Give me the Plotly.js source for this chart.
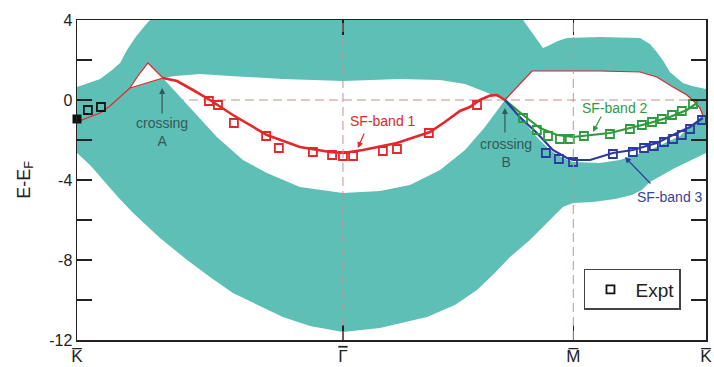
<!DOCTYPE html>
<html><head><meta charset="utf-8">
<script src="https://cdn.plot.ly/plotly-3.0.1.min.js"></script>
<style>html,body{margin:0;padding:0;background:#fff;} #chart{width:714px;height:367px;}</style>
</head><body><div id="chart"></div>
<script>
// ---- axes ----
const tickK = [0, 1.0, 1.866, 2.365];
const tickLabels = ['K\u0305', '<span style="text-decoration:overline">\u0393</span>', 'M\u0305', 'K\u0305'];
const eTicks = [-12, -8, -4, 0, 4];
const eTickText = ['-12', '-8', '-4', '0', '4'];
const eMinorTicks = [-10, -6, -2, 2];

// ---- projected bulk bands (teal) ----
const bulkTopK = [0, 0.041, 0.087, 0.132, 0.162, 0.188, 0.218, 0.248, 0.274, 1.677, 1.703, 1.729, 1.752, 1.778, 1.808, 1.842, 1.966, 2.117, 2.154, 2.180, 2.207, 2.229, 2.256, 2.278, 2.312, 2.342, 2.365];
const bulkTopE = [0.65, 0.85, 1.05, 1.5, 1.85, 2.5, 3.1, 3.6, 4, 4, 3.5, 3.0, 2.6, 2.75, 2.95, 3.1, 3.15, 3.1, 2.8, 2.4, 1.9, 1.4, 1.1, 0.85, 0.7, 0.6, 0.55];
const bulkBotK = [0, 0.049, 0.098, 0.154, 0.211, 0.312, 0.414, 0.5, 0.586, 0.688, 0.774, 0.876, 1.0, 1.139, 1.316, 1.421, 1.504, 1.571, 1.628, 1.703, 1.767, 1.827, 1.865, 1.940, 2.023, 2.086, 2.124, 2.154, 2.248, 2.365];
const bulkBotE = [-2.65, -3.25, -4.0, -4.85, -5.65, -6.9, -8.0, -8.85, -9.65, -10.3, -10.85, -11.3, -11.6, -11.4, -10.85, -10.25, -9.5, -8.65, -7.85, -7.0, -6.15, -5.35, -5.15, -5.1, -4.95, -4.75, -4.5, -4.1, -3.4, -2.65];
const edgeCut = [2.365, -0.85];
// gap around Gamma (between crossings A and B)
const lensTopK = [0.323, 0.368, 0.462, 0.575, 0.774, 1.0, 1.214, 1.365, 1.459, 1.515, 1.564, 1.609];
const lensTopE = [1.1, 1.2, 1.3, 1.2, 1.05, 0.95, 1.05, 1.0, 0.8, 0.5, 0.25, 0.0];
const lensBotK = [0.323, 0.357, 0.398, 0.462, 0.526, 0.624, 0.714, 0.838, 1.0, 1.139, 1.252, 1.365, 1.459, 1.534, 1.609];
const lensBotE = [1.1, 0.6, 0.0, -0.9, -1.85, -3.0, -3.65, -4.35, -4.65, -4.55, -4.25, -3.5, -2.5, -1.35, 0.0];
// gap around M
const pocketTopK = [1.609, 1.658, 1.711, 1.816, 1.966, 2.117, 2.180, 2.241, 2.293, 2.323, 2.342, 2.353];
const pocketTopE = [0.0, 0.7, 1.45, 1.45, 1.45, 1.4, 1.15, 0.65, 0.25, -0.1, -0.4, -0.75];
const pocketBotK = [1.609, 1.665, 1.729, 1.778, 1.827, 1.865, 1.966, 2.041, 2.154, 2.267, 2.353];
const pocketBotE = [0.0, -0.85, -1.85, -2.5, -2.9, -3.1, -3.15, -3.0, -2.5, -1.8, -0.75];
// thin surface-state lines near K and crossing A
const kaLegK = [0, 0.049, 0.087, 0.124, 0.162, 0.199];
const kaLegE = [-1.1, -0.85, -0.65, -0.3, 0.15, 0.6];
const kaPeakK = [0.199, 0.229, 0.267, 0.293, 0.323];
const kaPeakE = [0.6, 1.2, 1.85, 1.5, 1.1];
const kaLowK = [0.199, 0.237, 0.274, 0.323];
const kaLowE = [0.6, 0.75, 0.9, 1.1];

// ---- SF bands (theory) ----
const sf1K = [0.323, 0.376, 0.436, 0.5, 0.586, 0.714, 0.838, 0.951, 1.0, 1.075, 1.203, 1.327, 1.383, 1.44, 1.477, 1.515, 1.553, 1.579, 1.609];
const sf1E = [1.1, 0.95, 0.5, 0.0, -0.75, -1.75, -2.35, -2.6, -2.65, -2.5, -2.15, -1.6, -1.1, -0.55, -0.35, 0.0, 0.22, 0.25, 0.0];
const sf2K = [1.609, 1.677, 1.741, 1.805, 1.865, 1.929, 2.004, 2.079, 2.154, 2.229, 2.293, 2.331];
const sf2E = [0.0, -0.75, -1.4, -1.75, -1.85, -1.75, -1.65, -1.4, -1.15, -0.85, -0.5, -0.15];
const sf3K = [1.609, 1.665, 1.729, 1.789, 1.842, 1.865, 1.929, 2.015, 2.090, 2.180, 2.256, 2.305, 2.353];
const sf3E = [0.0, -0.85, -1.65, -2.5, -2.9, -3.0, -3.0, -2.65, -2.5, -2.15, -1.65, -1.35, -0.9];

// ---- experiment ----
const exKfilledK = [0], exKfilledE = [-0.95];
const exKK = [0.041, 0.090], exKE = [-0.5, -0.35];
const exRedK = [0.496, 0.530, 0.590, 0.711, 0.759, 0.887, 0.959, 1.0, 1.038, 1.150, 1.203, 1.323, 1.504];
const exRedE = [-0.05, -0.25, -1.15, -1.8, -2.4, -2.6, -2.75, -2.8, -2.8, -2.55, -2.45, -1.65, -0.25];
const exGreenK = [1.677, 1.729, 1.771, 1.816, 1.853, 1.906, 2.004, 2.079, 2.124, 2.162, 2.199, 2.237, 2.274, 2.316];
const exGreenE = [-0.9, -1.5, -1.8, -1.95, -1.95, -1.8, -1.7, -1.45, -1.25, -1.1, -0.95, -0.75, -0.55, -0.2];
const exBlueK = [1.763, 1.812, 1.865, 2.015, 2.090, 2.132, 2.169, 2.207, 2.241, 2.274, 2.305, 2.350];
const exBlueE = [-2.65, -2.95, -3.1, -2.7, -2.6, -2.4, -2.3, -2.1, -1.95, -1.75, -1.45, -1.0];

// ---- colours ----
const TEAL = '#5dbfb6', RED = '#e5262a', GREEN = '#2e9a3e', BLUE = '#2c3a9e', DASH = '#c4928e';
const FONT = 'Liberation Sans, Arial, sans-serif';

const rev = a => a.slice().reverse();
// upper teal region
const t1K = [].concat(bulkTopK, [edgeCut[0]], rev(pocketTopK), rev(lensTopK).slice(1), rev(kaPeakK).slice(1), rev(kaLegK).slice(1));
const t1E = [].concat(bulkTopE, [edgeCut[1]], rev(pocketTopE), rev(lensTopE).slice(1), rev(kaPeakE).slice(1), rev(kaLegE).slice(1));
// lower teal region
const t2K = [].concat(kaLegK, kaLowK.slice(1), lensBotK.slice(1), pocketBotK.slice(1), [edgeCut[0]], rev(bulkBotK));
const t2E = [].concat(kaLegE, kaLowE.slice(1), lensBotE.slice(1), pocketBotE.slice(1), [edgeCut[1]], rev(bulkBotE));

const fillTrace = (x, y) => ({x, y, type: 'scatter', mode: 'lines', fill: 'toself', fillcolor: TEAL,
  line: {width: 0, color: TEAL}, showlegend: false, hoverinfo: 'skip'});
const lineTrace = (x, y, color, w) => ({x, y, type: 'scatter', mode: 'lines', line: {color, width: w},
  showlegend: false, hoverinfo: 'skip'});
const ptsTrace = (x, y, color, extra) => Object.assign({x, y, type: 'scatter', mode: 'markers',
  marker: {symbol: 'square-open', size: 8, color, line: {width: 1.8, color}}, showlegend: false,
  cliponaxis: false, hoverinfo: 'skip'}, extra || {});

const data = [
  fillTrace(t1K, t1E),
  fillTrace(t2K, t2E),
  lineTrace(kaLegK, kaLegE, RED, 1.2),
  lineTrace(kaPeakK, kaPeakE, RED, 1.2),
  lineTrace(kaLowK, kaLowE, RED, 1.2),
  lineTrace(pocketTopK, pocketTopE, '#d8262a', 1.2),
  lineTrace(sf1K, sf1E, RED, 2.6),
  lineTrace(sf2K, sf2E, GREEN, 2.2),
  lineTrace(sf3K, sf3E, BLUE, 2.2),
  ptsTrace(exKK, exKE, '#111', {name: 'Expt', showlegend: true}),
  ptsTrace(exKfilledK, exKfilledE, '#111', {marker: {symbol: 'square', size: 9, color: '#111'}}),
  ptsTrace(exRedK, exRedE, RED),
  ptsTrace(exGreenK, exGreenE, GREEN),
  ptsTrace(exBlueK, exBlueE, BLUE)
];

const arrow = (x, y, ax, ay, color) => ({x, y, ax, ay, text: '', showarrow: true, arrowhead: 2,
  arrowsize: 1, arrowwidth: 1.2, arrowcolor: color, xref: 'x', yref: 'y'});
const label = (x, y, text, color) => ({x, y, text, showarrow: false, xref: 'x', yref: 'y',
  font: {family: FONT, size: 14, color}});

const annotations = [
  label(0.320, -1.6, 'crossing<br>A', '#345a57'),
  arrow(0.320, 0.6, 0, 27, '#345a57'),
  label(1.613, -2.65, 'crossing<br>B', '#345a57'),
  arrow(1.609, -0.4, 0, 26, '#345a57'),
  label(1.150, -1.05, 'SF-band 1', RED),
  arrow(1.056, -2.4, 7, -16, RED),
  label(2.023, -0.4, 'SF-band 2', GREEN),
  arrow(1.940, -1.6, 9, -17, GREEN),
  label(2.229, -4.85, 'SF-band 3', '#3a3f9a'),
  arrow(2.060, -2.85, 27, 28, BLUE)
];

const tickStyle = {ticks: 'inside', ticklen: 15, tickwidth: 1.3, tickcolor: '#222'};
const layout = {
  width: 714, height: 367,
  margin: {l: 77, r: 8, t: 20, b: 27},
  paper_bgcolor: '#fff', plot_bgcolor: '#fff',
  showlegend: true,
  legend: {x: 0.806, y: 0.222, xanchor: 'left', yanchor: 'top', bgcolor: '#fff', itemwidth: 40,
    bordercolor: '#444', borderwidth: 1.5, font: {family: FONT, size: 19, color: '#222'}},
  xaxis: Object.assign({range: [0, 2.365], tickmode: 'array', tickvals: tickK, ticktext: tickLabels,
    showline: true, linecolor: '#222', linewidth: 1.5, mirror: 'ticks',
    showgrid: false, zeroline: false, tickfont: {family: FONT, size: 17, color: '#222'}}, tickStyle),
  yaxis: Object.assign({range: [-12, 4], tickmode: 'array', tickvals: eTicks, ticktext: eTickText,
    minor: Object.assign({tickmode: 'array', tickvals: eMinorTicks, showgrid: false}, tickStyle),
    showline: true, linecolor: '#222', linewidth: 1.5, mirror: 'ticks',
    showgrid: false, zeroline: false, tickfont: {family: FONT, size: 16, color: '#222'},
    title: {text: 'E-E<sub>F</sub>', font: {family: FONT, size: 18, color: '#222'}, standoff: 14}}, tickStyle),
  shapes: [
    {type: 'line', xref: 'x', yref: 'y', x0: 0, x1: 2.365, y0: 0, y1: 0, layer: 'below',
      line: {color: DASH, width: 1, dash: '9px,5px'}},
    {type: 'line', xref: 'x', yref: 'y', x0: 1.0, x1: 1.0, y0: -12, y1: 4, layer: 'above',
      line: {color: DASH, width: 1, dash: '9px,5px'}},
    {type: 'line', xref: 'x', yref: 'y', x0: 1.866, x1: 1.866, y0: -12, y1: 4, layer: 'above',
      line: {color: DASH, width: 1, dash: '9px,5px'}}
  ],
  annotations
};

Plotly.newPlot('chart', data, layout, {staticPlot: true, displayModeBar: false});
</script>
</body></html>
